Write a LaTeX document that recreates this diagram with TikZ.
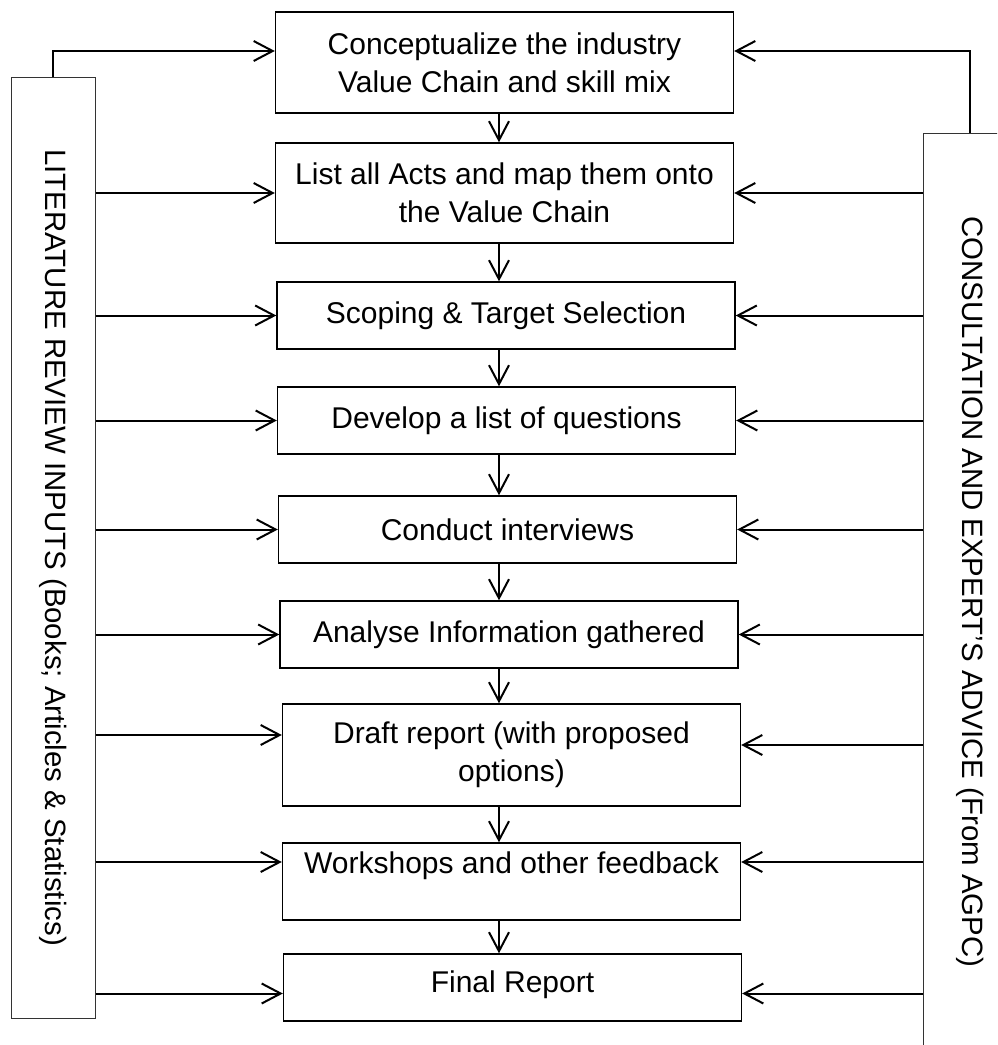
\documentclass[tikz,border=0pt]{standalone}
\usepackage{fontspec}
\setmainfont{Liberation Sans}
\usetikzlibrary{arrows.meta}

\begin{document}
\begin{tikzpicture}[x=0.5pt, y=-0.5pt, >={Straight Barb[length=9.5pt, width=10pt]}]
\tikzstyle{process} = [rectangle, minimum width=229 pt, minimum height=33.5 pt, inner sep=0 pt, text centered, draw=black, line width=0.7 pt, font=\fontsize{15}{19}\selectfont]
\tikzstyle{source} = [rectangle, inner sep=0 pt, draw=black!80, line width=0.5 pt]
\tikzstyle{sourcetext} = [rotate=-90, inner sep=0 pt, font=\fontsize{14.7}{18}\selectfont]
\tikzstyle{flow} = [->, line width=1 pt]

\useasboundingbox (0,0) rectangle (997,1045);
\clip (0,0) rectangle (997,1045);

% steps of the study
\node (b1) [process, align=center, minimum height=50.5 pt] at (504.5,62.5) {Conceptualize the industry\\Value Chain and skill mix};
\node (b2) [process, align=center, minimum height=50 pt] at (504.5,193) {List all Acts and map them onto\\the Value Chain};
\node (b3) [process] at (506,315.5) {Scoping \& Target Selection};
\node (b4) [process] at (506.5,420.5) {Develop a list of questions};
\node (b5) [process] at (507.5,529.5) {Conduct interviews};
\node (b6) [process] at (509,634.5) {Analyse Information gathered};
\node (b7) [process, align=center, minimum height=51 pt] at (511.5,755) {Draft report (with proposed\\options)};
\node (b8) [process, text height=15 pt, text depth=23.5 pt] at (511.5,881.5) {Workshops and other feedback};
\node (b9) [process, text height=19 pt, text depth=14.5 pt] at (512.5,987.5) {Final Report};

% inputs on both sides
\node (lit) [source, minimum width=42 pt, minimum height=470.5 pt] at (53,547.5) {};
\node (littext) [sourcetext] at (lit.center) {LITERATURE REVIEW INPUTS (Books; Articles \& Statistics)};
\node (expert) [source, minimum width=47 pt, minimum height=459 pt] at (970,592) {};
\node (experttext) [sourcetext] at (expert.center) {CONSULTATION AND EXPERT’S ADVICE (From AGPC)};

\coordinate (axis) at (499,0);
\foreach \a/\b in {b1/b2, b2/b3, b3/b4, b4/b5, b5/b6, b6/b7, b7/b8, b8/b9}
  \draw [flow] (axis |- \a.south) -- (axis |- \b.north);

\draw [flow] (lit.north) |- ([yshift=5.75 pt]b1.west);
\draw [flow] (expert.north) |- ([yshift=5.75 pt]b1.east);

\foreach \b/\dl/\dr in {b2/0/0, b3/0/0, b4/0/0, b5/0/0, b6/0/0, b7/10/5, b8/9.75/9.75, b9/-3/-3}
{
  \coordinate (tipl) at ([yshift=\dl pt]\b.west);
  \coordinate (tipr) at ([yshift=\dr pt]\b.east);
  \draw [flow] (lit.east |- tipl) -- (tipl);
  \draw [flow] (expert.west |- tipr) -- (tipr);
}

\end{tikzpicture}
\end{document}
